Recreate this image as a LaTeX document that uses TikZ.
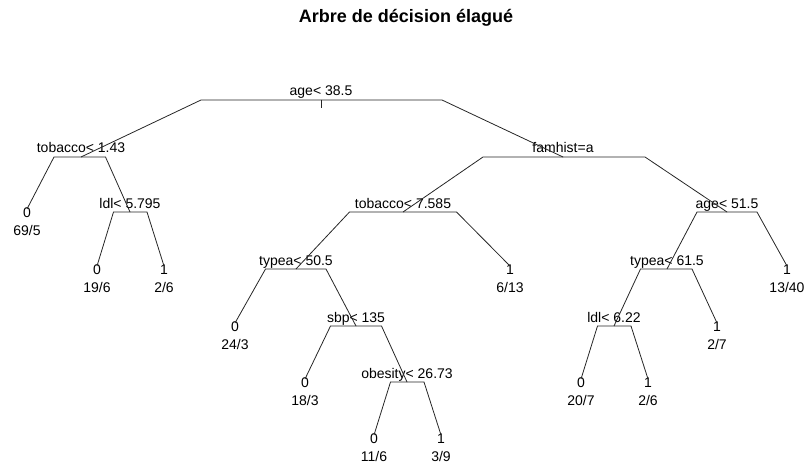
\documentclass[tikz,border=0pt]{standalone}
\usepackage{fontspec}
\setmainfont{Liberation Sans}
\usetikzlibrary{calc}
\tikzset{
  lbl/.style={anchor=base,inner sep=0pt,font=\fontsize{14}{16}\selectfont},
  ttl/.style={anchor=base,inner sep=0pt,font=\fontsize{18}{20}\selectfont\bfseries},
  br/.style={draw=black!85,line width=0.8pt}
}
\newcommand\branch[2]{\draw[br] let \p1=(#1), \p2=(#2) in (\p1) -- ({(\x1+\x2)/2},\y1) -- (\p2);}
\newcommand\inode[4]{% name, x, y, text
  \coordinate (#1) at (#2,#3);
  \node[lbl] (#1t) at (#2,#3-4) {#4};}
\newcommand\leaf[5]{% name, x, level, class, counts
  \coordinate (#1) at (#2,#3-3);
  \node[lbl] (#1c) at (#2,#3+5) {#4};
  \node[lbl] (#1n) at (#2,#3+23) {#5};}
\begin{document}
\begin{tikzpicture}[x=1pt,y=-1pt]
\useasboundingbox (0,0) rectangle (805,465);
\node[ttl] (title) at (406,23) {Arbre de décision élagué};
% internal nodes
\inode{n1}{321}{100}{age< 38.5}
\inode{n2}{81}{157}{tobacco< 1.43}
\inode{n5}{130}{212}{ldl< 5.795}
\inode{n3}{563}{157}{famhist=a}
\inode{n6}{403}{212}{tobacco< 7.585}
\inode{n7}{727}{212}{age< 51.5}
\inode{n12}{296}{269}{typea< 50.5}
\inode{n25}{356}{326}{sbp< 135}
\inode{n51}{407}{382}{obesity< 26.73}
\inode{n14}{667}{269}{typea< 61.5}
\inode{n28}{614}{326}{ldl< 6.22}
% leaves
\leaf{l4}{27}{212}{0}{69/5}
\leaf{l10}{97}{269}{0}{19/6}
\leaf{l11}{164}{269}{1}{2/6}
\leaf{l13}{510}{269}{1}{6/13}
\leaf{l24}{235}{326}{0}{24/3}
\leaf{l50}{305}{382}{0}{18/3}
\leaf{l102}{374}{438}{0}{11/6}
\leaf{l103}{441}{438}{1}{3/9}
\leaf{l15}{787}{269}{1}{13/40}
\leaf{l29}{717}{326}{1}{2/7}
\leaf{l56}{581}{382}{0}{20/7}
\leaf{l57}{648}{382}{1}{2/6}
% root stub
\coordinate (stub) at (321,108);
\draw[br] (n1) -- (stub);
% branches
\branch{n1}{n2}\branch{n1}{n3}
\branch{n2}{l4}\branch{n2}{n5}
\branch{n5}{l10}\branch{n5}{l11}
\branch{n3}{n6}\branch{n3}{n7}
\branch{n6}{n12}\branch{n6}{l13}
\branch{n12}{l24}\branch{n12}{n25}
\branch{n25}{l50}\branch{n25}{n51}
\branch{n51}{l102}\branch{n51}{l103}
\branch{n7}{n14}\branch{n7}{l15}
\branch{n14}{n28}\branch{n14}{l29}
\branch{n28}{l56}\branch{n28}{l57}
\end{tikzpicture}
\end{document}
